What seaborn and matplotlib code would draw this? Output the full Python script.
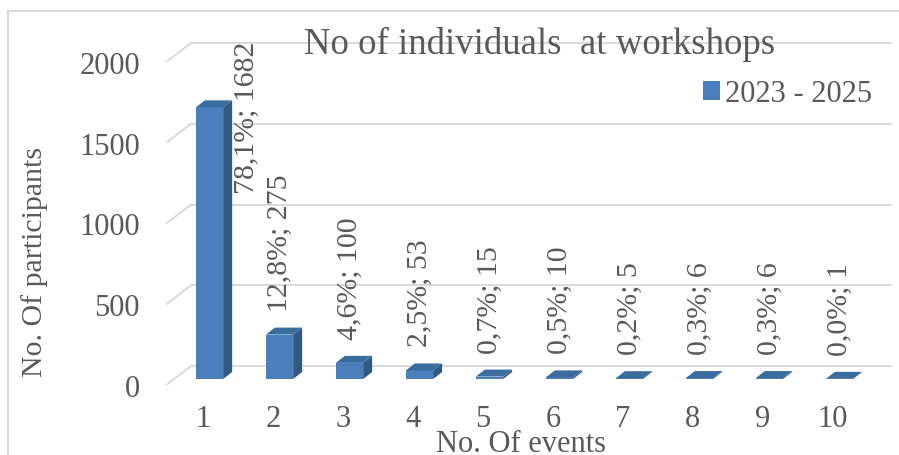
import numpy as np
import pandas as pd
import matplotlib
import seaborn as sns

matplotlib.use("Agg")
from matplotlib import pyplot as plt
from matplotlib.patches import Polygon, Rectangle
from matplotlib.transforms import ScaledTranslation

# data
events = ["1", "2", "3", "4", "5", "6", "7", "8", "9", "10"]
participants = [1682, 275, 100, 53, 15, 10, 5, 6, 6, 1]
period = "2023 - 2025"
y_ticks = [0, 500, 1000, 1500, 2000]

FRONT = "#4a7fbb"
SIDE = "#2f5a85"
TOP = "#3b6c9e"
GRID = "#d9d9d9"
TEXT = "#595959"

W, H, DPI = 899, 456, 100
AX_L, AX_R, AX_B, AX_T = 174.5, 874.5, 380, 57  # pixel box of the bar front plane
PX_X = (AX_R - AX_L) / len(events)
PX_Y = (AX_B - AX_T) / 2000


def px(dx, dy):
    # pixel offset -> data offset
    return dx / PX_X, dy / PX_Y


df = pd.DataFrame({"events": events, "participants": participants, "period": period})
total = sum(participants)

sns.set_style("white")
plt.rcParams["font.family"] = ["Liberation Serif", "DejaVu Serif"]
plt.rcParams["text.color"] = TEXT

fig = plt.figure(figsize=(W / DPI, H / DPI), dpi=DPI)
ax = fig.add_axes([AX_L / W, 1 - AX_B / H, (AX_R - AX_L) / W, (AX_B - AX_T) / H])

sns.barplot(data=df, x="events", y="participants", hue="period", palette=[FRONT],
            width=0.39, saturation=1, dodge=False, ax=ax, zorder=3, linewidth=0)

ax.set_xlim(-0.5, len(events) - 0.5)
ax.set_ylim(0, 2000)
ax.set_yticks(y_ticks)
ax.set_xlabel("")
ax.set_ylabel("")
sns.despine(ax=ax, left=True, bottom=True)
ax.patch.set_alpha(0)
ax.tick_params(length=0, labelsize=22, labelcolor=TEXT)
ax.tick_params(axis="y", pad=25)
ax.tick_params(axis="x", pad=18)

# 3D floor / back wall gridlines
wx, wy = px(16.5, 13)
fx, fy = px(-7.5, -5.5)
xl, xr = -0.5, len(events) - 0.5
for v in y_ticks:
    ax.plot([xl + fx, xl + wx], [v + fy, v + wy], color=GRID, lw=1.4, clip_on=False, zorder=0)
    ax.plot([xl + wx, xr + wx], [v + wy, v + wy], color=GRID, lw=1.4, clip_on=False, zorder=0)

# depth faces on the bars
dx, dy = px(9, 7)
bars = [p for p in ax.patches if p.get_height() > 0]
for bar in bars:
    x0, w, h = bar.get_x(), bar.get_width(), bar.get_height()
    side = [(x0 + w, 0), (x0 + w, h), (x0 + w + dx, h + dy), (x0 + w + dx, dy)]
    top = [(x0, h), (x0 + w, h), (x0 + w + dx, h + dy), (x0 + dx, h + dy)]
    ax.add_patch(Polygon(side, closed=True, fc=SIDE, ec="none", zorder=3, clip_on=False))
    ax.add_patch(Polygon(top, closed=True, fc=TOP, ec="none", zorder=4, clip_on=False))

# data labels
for bar, v in zip(bars, participants):
    pct = f"{v / total * 100:.1f}".replace(".", ",")
    xc = bar.get_x() + bar.get_width() / 2
    if v > 1000:
        off, ha = (37, -9), "center"
    else:
        off, ha = (0, 24), "left"
    ax.annotate(f"{pct}%; {v}", (xc, v), xytext=off, textcoords="offset pixels",
                rotation=90, rotation_mode="anchor", ha=ha, va="center",
                fontsize=21.5, color=TEXT, zorder=5, annotation_clip=False)

# shift tick labels onto the front plane
for lbl in ax.get_yticklabels():
    lbl.set_transform(lbl.get_transform() + ScaledTranslation(0, -6 / DPI, fig.dpi_scale_trans))
for lbl in ax.get_xticklabels():
    lbl.set_transform(lbl.get_transform() + ScaledTranslation(-6.5 / DPI, 0, fig.dpi_scale_trans))

handles, labels = ax.get_legend_handles_labels()
ax.legend(handles, labels, loc="center left", bbox_to_anchor=(703 / W, 1 - 95 / H),
          bbox_transform=fig.transFigure, frameon=False, fontsize=22, borderpad=0,
          borderaxespad=0, handlelength=0.56, handleheight=0.56, handletextpad=0.17,
          labelcolor=TEXT)

fig.text(540 / W, 1 - 54 / H, "No of individuals  at workshops", ha="center",
         va="baseline", fontsize=26.5, color=TEXT)
fig.text(521 / W, 4 / H, "No. Of events", ha="center", va="baseline", fontsize=22, color=TEXT)
fig.text(35 / W, 1 - 262 / H, "No. Of participants", ha="center", va="center",
         rotation=90, fontsize=21.5, color=TEXT)

fig.add_artist(Rectangle((8 / W, -0.1), 1.2, 1.1 - 12 / H, transform=fig.transFigure,
                         fill=False, ec=GRID, lw=1.5))

fig.savefig("out.png", dpi=DPI)
